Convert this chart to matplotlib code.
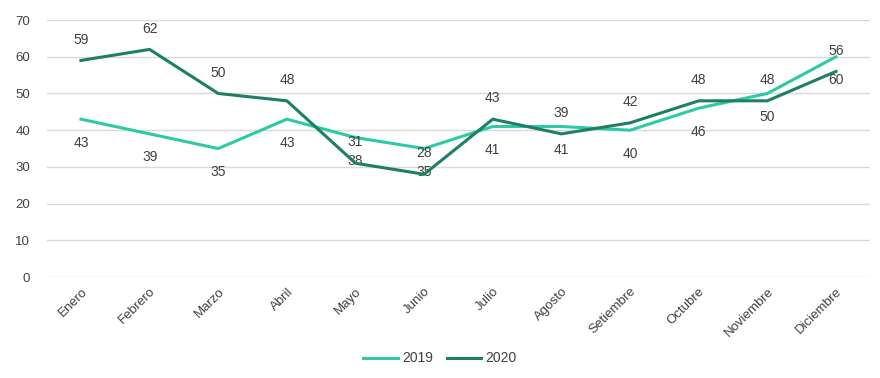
import matplotlib
matplotlib.use("Agg")
import matplotlib.pyplot as plt

months = ["Enero", "Febrero", "Marzo", "Abril", "Mayo", "Junio", "Julio",
          "Agosto", "Setiembre", "Octubre", "Noviembre", "Diciembre"]
v2019 = [43, 39, 35, 43, 38, 35, 41, 41, 40, 46, 50, 60]
v2020 = [59, 62, 50, 48, 31, 28, 43, 39, 42, 48, 48, 56]
yticks = [0, 10, 20, 30, 40, 50, 60, 70]

plt.rcParams['font.family'] = ['Liberation Sans', 'DejaVu Sans']

fig = plt.figure(figsize=(8.8, 3.78), dpi=100)
ax = fig.add_axes([0.053, 0.267, 0.936, 0.68])

c19 = "#2ec9a6"
c20 = "#1d7f65"
x = list(range(len(months)))
ax.plot(x, v2019, color=c19, lw=2.2, label="2019", zorder=3)
ax.plot(x, v2020, color=c20, lw=2.2, label="2020", zorder=4)

for i in x:
    ax.annotate(str(v2020[i]), (i, v2020[i]), xytext=(0, 15), textcoords="offset points",
                ha="center", va="center", fontsize=10, color="#404040")
    ax.annotate(str(v2019[i]), (i, v2019[i]), xytext=(0, -17), textcoords="offset points",
                ha="center", va="center", fontsize=10, color="#404040")

ax.set_xlim(-0.5, len(months) - 0.5)
ax.set_ylim(0, 70)
ax.set_yticks(yticks)
ax.set_yticklabels([str(t) for t in yticks], fontsize=9.5, color="#404040")
ax.set_xticks(x)
ax.set_xticklabels(months, rotation=45, ha="right", rotation_mode="anchor",
                   fontsize=9.5, color="#404040")
ax.grid(axis="y", color="#d9d9d9", lw=1)
ax.set_axisbelow(True)
for s in ax.spines.values():
    s.set_visible(False)
ax.tick_params(axis="y", length=0, pad=12)
ax.tick_params(axis="x", length=0, pad=6)

fig.legend(loc="lower center", bbox_to_anchor=(0.5, 0.0), ncol=2, frameon=False,
           fontsize=10, handlelength=2.5, handletextpad=0.3, columnspacing=1.0,
           labelcolor="#404040")

fig.savefig("out.png", dpi=100)
